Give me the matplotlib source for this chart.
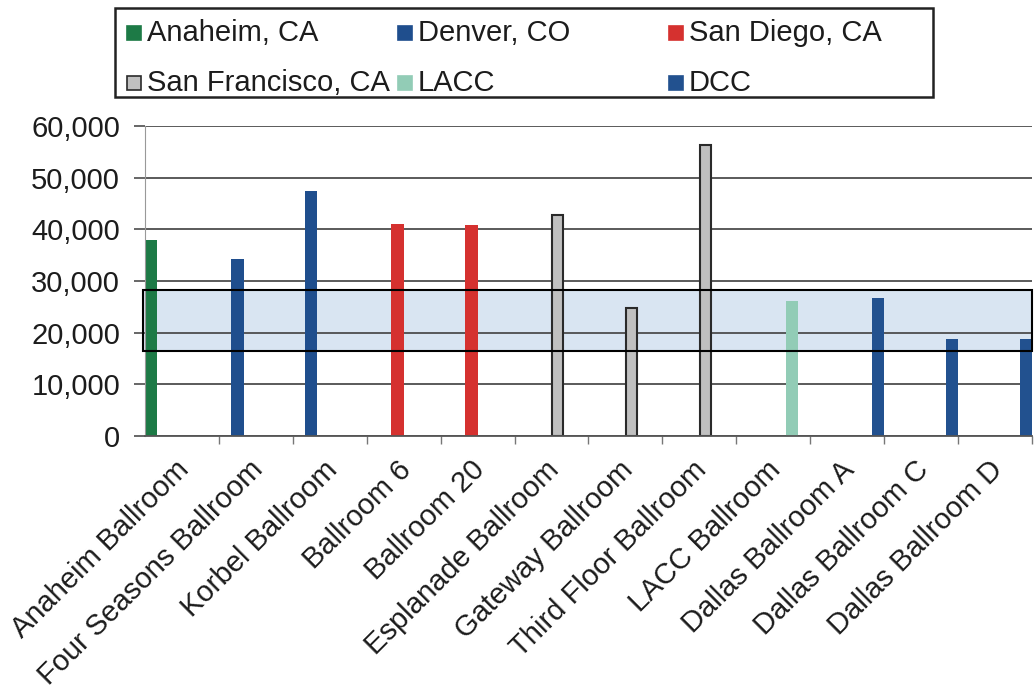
import matplotlib.pyplot as plt
import matplotlib.transforms as mtrans
from matplotlib.patches import Rectangle
import numpy as np

plt.rcParams['font.family'] = ['Liberation Sans', 'DejaVu Sans']

rooms = ["Anaheim Ballroom", "Four Seasons Ballroom", "Korbel Ballroom",
         "Ballroom 6", "Ballroom 20", "Esplanade Ballroom", "Gateway Ballroom",
         "Third Floor Ballroom", "LACC Ballroom", "Dallas Ballroom A",
         "Dallas Ballroom C", "Dallas Ballroom D"]
series_names = ["Anaheim, CA", "Denver, CO", "San Diego, CA",
                "San Francisco, CA", "LACC", "DCC"]
# which rooms belong to which series, and their sizes
anaheim_idx = [0]
anaheim_vals = [38000]
denver_idx = [1, 2]
denver_vals = [34300, 47500]
sandiego_idx = [3, 4]
sandiego_vals = [41100, 40800]
sf_idx = [5, 6, 7]
sf_vals = [42700, 24700, 56400]
lacc_idx = [8]
lacc_vals = [26100]
dcc_idx = [9, 10, 11]
dcc_vals = [26700, 18800, 18700]
band_low, band_high = 16500, 28300

colors = ['#1d7a46', '#1f4e8d', '#d5312f', '#c0c0c0', '#92ccb6', '#22518f']
edges = [None, None, None, '#2a2a2a', None, None]
txt = '#1c1c1c'

fig = plt.figure(figsize=(10.36, 6.91), dpi=100)
ax = fig.add_axes([0.140, 0.369, 0.856, 0.4488])

w = 1 / 6
groups = [(anaheim_idx, anaheim_vals), (denver_idx, denver_vals),
          (sandiego_idx, sandiego_vals), (sf_idx, sf_vals),
          (lacc_idx, lacc_vals), (dcc_idx, dcc_vals)]
for k, (idx, vals) in enumerate(groups):
    x = np.array(idx) + (k - 2.5) * w
    if edges[k]:
        ax.bar(x, vals, width=w * 0.85, color=colors[k], edgecolor=edges[k],
               linewidth=1.5, zorder=2)
    else:
        ax.bar(x, vals, width=w, color=colors[k], linewidth=0, zorder=2)

# target range band: fill behind the bars, outline on top
ax.add_patch(Rectangle((-0.53, band_low), 12.03, band_high - band_low,
                       facecolor='#d9e5f2', edgecolor='none', zorder=0.5,
                       clip_on=False))
ax.add_patch(Rectangle((-0.53, band_low), 12.03, band_high - band_low,
                       facecolor='none', edgecolor='black',
                       linewidth=1.5, zorder=3, clip_on=False))

ax.set_xlim(-0.5, 11.5)
ax.set_ylim(0, 60000)
ax.set_yticks(range(0, 60001, 10000))
ax.set_yticklabels([f"{v:,}" for v in range(0, 60001, 10000)],
                   fontsize=21, color=txt)
ax.yaxis.grid(True, color='#4d4d4d', linewidth=1.3, zorder=1)
ax.set_axisbelow(True)
ax.tick_params(axis='y', length=8, color='#4d4d4d', width=1.2, pad=10)

ax.set_xticks(range(len(rooms)))
ax.set_xticklabels(rooms, fontsize=21, rotation=45, ha='right', va='top',
                   rotation_mode='anchor', color=txt)
ax.set_xticks(np.arange(0.5, 11.6, 1), minor=True)
ax.tick_params(axis='x', which='major', length=0, pad=14)
ax.tick_params(axis='x', which='minor', length=6, color='#777777', width=1)
offset = mtrans.ScaledTranslation(-5 / 72, 0, fig.dpi_scale_trans)
for lab in ax.get_xticklabels():
    lab.set_transform(lab.get_transform() + offset)

for s in ['top', 'right']:
    ax.spines[s].set_visible(False)
ax.spines['left'].set_color('#999999')
ax.spines['bottom'].set_color('#555555')
ax.spines['bottom'].set_linewidth(1.3)

# legend box laid out like the original (equal-width columns, row-wise)
W, H = 1036, 691
fig.add_artist(Rectangle((115 / W, 1 - 97 / H), (933 - 115) / W, (97 - 8) / H,
                         transform=fig.transFigure, facecolor='white',
                         edgecolor='#222222', linewidth=1.8))
for k, name in enumerate(series_names):
    col, row = k % 3, k // 3
    hx = 127 + 271 * col
    cy = 33 + 50 * row
    fig.add_artist(Rectangle((hx / W, 1 - (cy + 7) / H), 14 / W, 14 / H,
                             transform=fig.transFigure, facecolor=colors[k],
                             edgecolor=edges[k] if edges[k] else colors[k],
                             linewidth=1.2))
    fig.text((hx + 20) / W, 1 - cy / H, name, fontsize=21, va='center',
             ha='left', color=txt)

fig.savefig('out.png', dpi=100)
